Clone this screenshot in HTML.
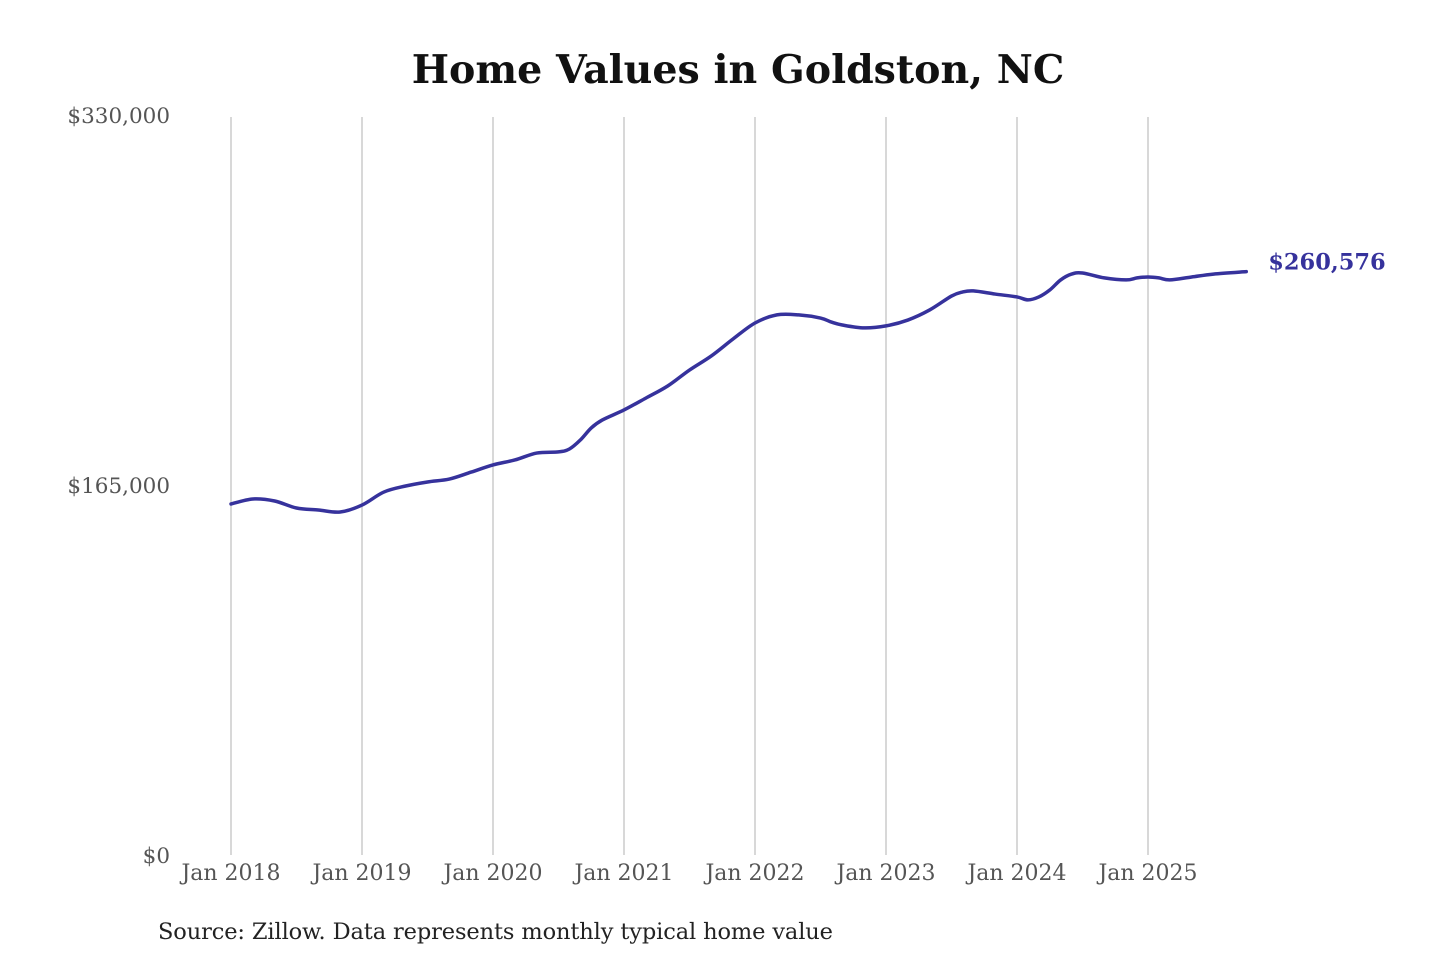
<!DOCTYPE html>
<html><head><meta charset="utf-8"><style>
html,body{margin:0;padding:0;background:#fff;width:1440px;height:960px;overflow:hidden}
svg text{font-family:"DejaVu Serif","Liberation Serif",serif}
</style></head><body>
<svg id="chart" width="1440" height="960">
<text x="738" y="83" text-anchor="middle" font-size="39.5" font-weight="bold" fill="#111">Home Values in Goldston, NC</text>
<g id="grid"></g><g id="yticks"></g><g id="xticks"></g>
<path id="line" fill="none" stroke="#36329c" stroke-width="3.5" stroke-linejoin="round" stroke-linecap="round"></path>
<text id="endlabel" font-size="22.5" font-weight="bold" fill="#36329c"></text>
<text x="158" y="939" font-size="22.5" fill="#222" textLength="675">Source: Zillow. Data represents monthly typical home value</text>
</svg>
<script>
const months=[0,2,4,6,8,10,12,14,16,18,20,22,24,26,28,30,31,32,33,34,36,38,40,42,44,46,48,50,52,54,55,56,58,60,62,64,66,67,68,70,72,73,74,75,76,77,78,80,82,83,84,85,86,88,90,93];
const values=[156974,159204,158312,155190,154300,153400,156500,162300,165000,166800,168100,171200,174400,176600,179700,180200,181500,185500,190900,194400,198900,204200,209600,216700,223000,230600,237700,241300,241300,239900,238100,236800,235500,236400,239000,243500,249700,251500,252000,250600,249300,248000,249300,252400,256900,259500,260000,257800,256900,257800,258200,257800,256900,258200,259500,260576];
const yTicks=[0,165000,330000];
const yTickLabels=["$0","$165,000","$330,000"];
const xTickMonths=[0,12,24,36,48,60,72,84];
const xTickLabels=["Jan 2018","Jan 2019","Jan 2020","Jan 2021","Jan 2022","Jan 2023","Jan 2024","Jan 2025"];
const lastLabel="$260,576";
const NS="http://www.w3.org/2000/svg";
const x=m=>231+m*(1148-231)/84;
const y=v=>856-v*(856-116)/330000;
function mk(t,a,p){const e=document.createElementNS(NS,t);for(const k in a)e.setAttribute(k,a[k]);p.appendChild(e);return e;}
const grid=document.getElementById('grid'),xt=document.getElementById('xticks'),yt=document.getElementById('yticks');
xTickMonths.forEach((m,i)=>{
 const l=mk('line',{x1:x(m),x2:x(m),y1:117,y2:855,stroke:'#bdbdbd','stroke-width':1.2},grid);
 
 
 const t=mk('text',{x:x(m),y:880,'text-anchor':'middle','font-size':22,fill:'#555'},xt);
 t.textContent=xTickLabels[i];
 
 
});
yTicks.forEach((v,i)=>{
 const t=mk('text',{x:170,y:y(v)+7,'text-anchor':'end','font-size':21.5,fill:'#555'},yt);
 t.textContent=yTickLabels[i];
 
 
});
const pts=months.map((m,i)=>[x(m),y(values[i])]);
let d='M'+pts[0][0]+','+pts[0][1];
for(let i=0;i<pts.length-1;i++){
 const p0=pts[i-1]||pts[i],p1=pts[i],p2=pts[i+1],p3=pts[i+2]||p2;
 const c1=[p1[0]+(p2[0]-p0[0])/6,p1[1]+(p2[1]-p0[1])/6],c2=[p2[0]-(p3[0]-p1[0])/6,p2[1]-(p3[1]-p1[1])/6];
 d+=`C${c1[0]},${c1[1]} ${c2[0]},${c2[1]} ${p2[0]},${p2[1]}`;
}
document.getElementById('line').setAttribute('d',d);
const el=document.getElementById('endlabel');
const lp=pts[pts.length-1];
el.setAttribute('x',lp[0]+22);el.setAttribute('y',lp[1]-2);el.textContent=lastLabel;
</script>
</body></html>
